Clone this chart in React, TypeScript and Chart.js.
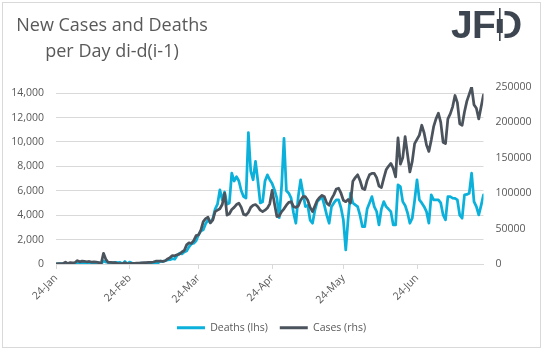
import React, { useEffect, useRef } from 'react';
import { Chart, registerables } from 'chart.js';

Chart.register(...registerables);

// Day index 0 = 24-Jan; one point per day up to day 180
const tickDays = [0, 31, 60, 91, 121, 152];
const tickLabels = ['24-Jan', '24-Feb', '24-Mar', '24-Apr', '24-May', '24-Jun'];
const leftTicks = [0, 2000, 4000, 6000, 8000, 10000, 12000, 14000];
const rightTicks = [0, 50000, 100000, 150000, 200000, 250000];

const deaths = [
  8, 16, 14, 26, 49, 2, 38, 42, 46, 103, 64, 66, 72, 70, 85, 87, 100, 107, 100, 5,
  253, 152, 143, 104, 98, 139, 115, 125, 4, 207, 11, 160, 80, 60, 45, 60, 70,
  60, 70, 75, 85, 100, 100, 105, 230, 200, 270,
  330, 350, 440, 400, 690, 880, 820, 990, 1070, 1400,
  1650, 1700, 1900, 2400, 2700, 2800, 3300, 3600, 3400, 3700,
  4500, 4900, 6070, 5250, 5900, 4900, 5000, 7440, 6800, 7160,
  6800, 6000, 5520, 5400, 10770, 7600, 6900, 8400, 6800, 5000,
  5100, 6800, 7300, 6900, 6600, 6070, 5400, 3800, 6400, 10300,
  6000, 5800, 5390, 4200, 3340, 5520, 6890, 5800, 4700, 4800,
  3600, 3340, 4400, 5110, 5300, 5520, 4800, 4000, 3340, 4700,
  5000, 5250, 5250, 4600, 3600, 1150, 3700, 5800, 5000, 4840,
  4700, 4000, 3060, 3060, 4500, 5000, 5520, 4700, 4300, 3200,
  4500, 5110, 4700, 4500, 4290, 3200, 3200, 6480, 6340, 5110,
  4800, 4200, 3340, 3750, 5200, 6890, 5250, 5000, 4700, 4290,
  3340, 5660, 5250, 5250, 5250, 5000, 4020, 3620, 5520, 5520,
  5400, 5380, 5250, 4000, 3750, 5660, 5700, 5800, 7440, 5110,
  4700, 4020, 4800, 5660,
];

const cases = [
  290, 490, 680, 810, 2650, 590, 2070, 1690, 2110, 4750, 3100, 4010, 3740, 3160, 3590, 2730, 3030, 2600, 2040, 420,
  15150, 6520, 2140, 2190, 2030, 1880, 500, 560, 620, 1750, 390, 600, 850, 950, 1200, 1400, 1750,
  1800, 1900, 2400, 2200, 2800, 3900, 3900, 3900, 3700, 4600,
  7100, 9000, 12000, 11500, 13000, 14000, 17000, 19000, 27000, 30000,
  29000, 33000, 40000, 41000, 48000, 60000, 64000, 66000, 58000, 62000,
  74000, 76000, 78000, 84000, 100000, 69000, 71000, 77000, 80000, 84000,
  86000, 80000, 70000, 69000, 73000, 80000, 83000, 84000, 81000, 76000,
  74000, 76000, 79000, 85000, 104000, 85000, 67000, 68000, 74000, 78000,
  83000, 87000, 88000, 81000, 80000, 82000, 90000, 95000, 95000, 90000,
  80000, 74000, 82000, 90000, 94000, 97000, 95000, 86000, 83000, 92000,
  98000, 106000, 107000, 100000, 90000, 88000, 91000, 86000, 117000, 122000,
  126000, 118000, 107000, 105000, 118000, 126000, 128000, 128000, 122000, 110000,
  108000, 121000, 133000, 138000, 142000, 135000, 123000, 178000, 141000, 150000,
  180000, 155000, 130000, 145000, 170000, 176000, 182000, 196000, 185000, 168000,
  159000, 175000, 194000, 205000, 213000, 200000, 172000, 170000, 205000, 212000,
  222000, 238000, 228000, 198000, 196000, 215000, 230000, 240000, 250000, 225000,
  220000, 205000, 222000, 239000,
];

const CYAN = '#0bb1da';
const DARK = '#4b535d';
const TEXT = '#595959';
const GRID = '#d9d9d9';
const FONT = { family: '"Open Sans", sans-serif', size: 10.5 };

const logoPlugin = {
  id: 'jfdLogo',
  afterDraw(chart: any) {
    const ctx = chart.ctx as CanvasRenderingContext2D;
    ctx.save();
    ctx.fillStyle = '#3d4550';
    ctx.font = 'bold 39px "Liberation Sans", Arial, sans-serif';
    ctx.textBaseline = 'alphabetic';
    ctx.textAlign = 'left';
    ctx.fillText('J', 451, 37.5);
    ctx.fillText('F', 472, 37.5);
    ctx.fillText('D', 494, 37.5);
    ctx.fillStyle = '#ffffff';
    ctx.fillRect(495, 5, 9.5, 36);
    ctx.fillStyle = '#3d4550';
    ctx.fillRect(499, 8, 1.6, 33);
    ctx.fillRect(496.8, 19, 6, 14);
    ctx.restore();
  },
};

export default function App() {
  const ref = useRef<HTMLCanvasElement | null>(null);

  useEffect(() => {
    if (!ref.current) return;
    const chart = new Chart(ref.current, {
      type: 'line',
      data: {
        datasets: [
          {
            label: 'Deaths (lhs)',
            data: deaths.map((v, i) => ({ x: i, y: v })),
            yAxisID: 'y',
            borderColor: CYAN,
            backgroundColor: CYAN,
            borderWidth: 2.75,
            pointRadius: 0,
            tension: 0,
            borderJoinStyle: 'round',
            borderCapStyle: 'round',
            order: 2,
          },
          {
            label: 'Cases (rhs)',
            data: cases.map((v, i) => ({ x: i, y: v })),
            yAxisID: 'y1',
            borderColor: DARK,
            backgroundColor: DARK,
            borderWidth: 2.75,
            pointRadius: 0,
            tension: 0,
            borderJoinStyle: 'round',
            borderCapStyle: 'round',
            order: 1,
          },
        ],
      },
      options: {
        responsive: false,
        animation: false,
        devicePixelRatio: 1,
        layout: { padding: { top: 87, left: 0, right: 0, bottom: 8 } },
        plugins: {
          legend: {
            position: 'bottom',
            labels: {
              boxWidth: 28,
              boxHeight: 3,
              padding: 12,
              color: TEXT,
              font: FONT,
              sort: (a: any, b: any) => a.datasetIndex - b.datasetIndex,
              generateLabels: (c: any) =>
                Chart.defaults.plugins.legend.labels
                  .generateLabels(c)
                  .map((l: any) => ({ ...l, lineWidth: 0 })),
            },
          },
          tooltip: { enabled: false },
          title: { display: false },
        },
        scales: {
          x: {
            type: 'linear',
            min: 0,
            max: 180,
            afterBuildTicks: (s: any) => {
              s.ticks = tickDays.map((v) => ({ value: v }));
            },
            afterFit: (s: any) => {
              s.height = 46.5;
            },
            ticks: {
              autoSkip: false,
              minRotation: 45,
              maxRotation: 45,
              color: TEXT,
              font: FONT,
              callback: (v: any) => {
                const k = tickDays.indexOf(Number(v));
                return k >= 0 ? tickLabels[k] : '';
              },
            },
            grid: { drawOnChartArea: false, drawTicks: true, tickLength: 5, color: GRID },
            border: { display: true, color: GRID, width: 1 },
          },
          y: {
            position: 'left',
            min: 0,
            max: 14500,
            afterBuildTicks: (s: any) => {
              s.ticks = leftTicks.map((v) => ({ value: v }));
            },
            afterFit: (s: any) => {
              s.width = 56;
            },
            ticks: {
              padding: 12,
              color: TEXT,
              font: FONT,
              callback: (v: any) => Number(v).toLocaleString('en-US'),
            },
            grid: { color: GRID, drawTicks: false },
            border: { display: false },
          },
          y1: {
            position: 'right',
            min: 0,
            max: 250000,
            afterBuildTicks: (s: any) => {
              s.ticks = rightTicks.map((v) => ({ value: v }));
            },
            afterFit: (s: any) => {
              s.width = 59.5;
            },
            ticks: {
              padding: 12,
              color: TEXT,
              font: FONT,
              callback: (v: any) => String(v),
            },
            grid: { drawOnChartArea: false, drawTicks: false },
            border: { display: false },
          },
        },
      } as any,
      plugins: [logoPlugin],
    });
    return () => chart.destroy();
  }, []);

  return (
    <div
      style={{
        position: 'fixed',
        left: 0,
        top: 0,
        width: 543,
        height: 351,
        background: '#ffffff',
        overflow: 'hidden',
      }}
    >
      <div
        style={{
          position: 'absolute',
          left: 2,
          top: 2,
          width: 537,
          height: 344,
          border: '1px solid #d9d9d9',
        }}
      />
      <canvas
        ref={ref}
        width={543}
        height={351}
        style={{ position: 'absolute', left: 0, top: 0, width: 543, height: 351 }}
      />
      <div
        style={{
          position: 'absolute',
          left: 12,
          top: 11,
          width: 200,
          textAlign: 'center',
          fontFamily: '"Open Sans", sans-serif',
          fontSize: 18,
          lineHeight: '26px',
          color: TEXT,
          whiteSpace: 'nowrap',
        }}
      >
        New Cases and Deaths
        <br />
        per Day di-d(i-1)
      </div>
    </div>
  );
}
